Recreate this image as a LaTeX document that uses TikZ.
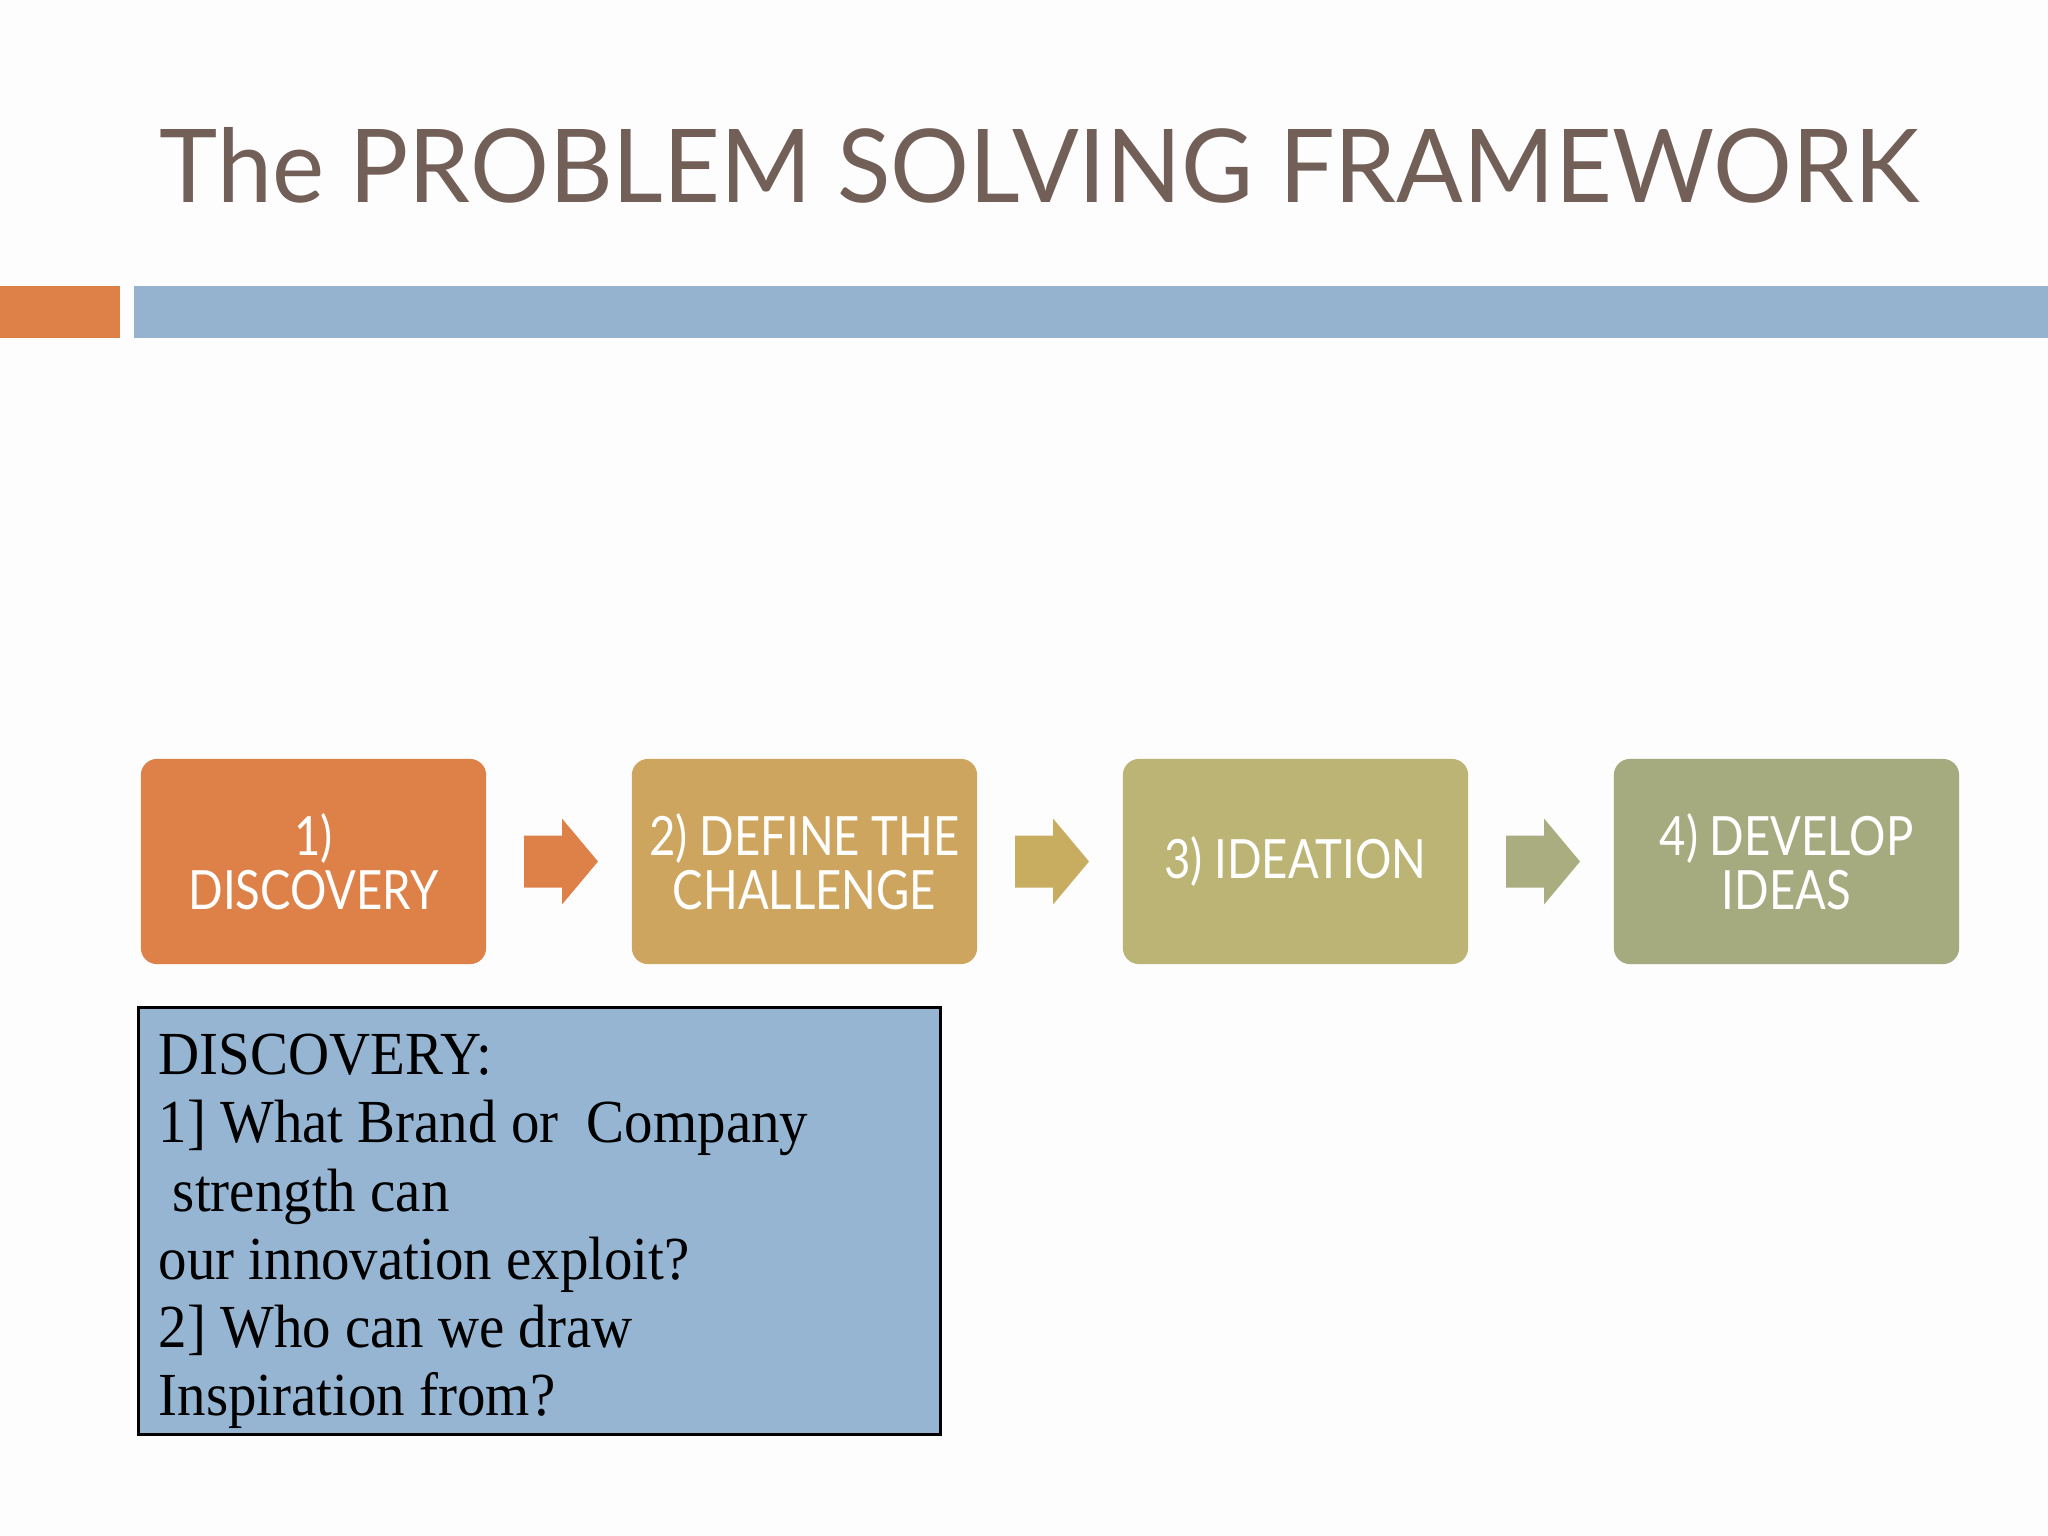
\documentclass[tikz,border=0pt]{standalone}
\usepackage{fontspec}
\usepackage{graphicx}
\usetikzlibrary{calc}
\setmainfont{Liberation Serif}
\newfontfamily\titlefont{Lato}
\newfontfamily\stepfont[FakeStretch=0.84]{Lato}
\newfontfamily\discfont[FakeStretch=0.93]{Liberation Serif}
\definecolor{bg}{HTML}{FDFDFD}
\definecolor{titlec}{HTML}{725F57}
\definecolor{barorange}{HTML}{DE8149}
\definecolor{barblue}{HTML}{95B3CF}
\definecolor{cone}{HTML}{DE8149}
\definecolor{ctwo}{HTML}{CEA55E}
\definecolor{cthree}{HTML}{BCB474}
\definecolor{cfour}{HTML}{A6AB7F}
\definecolor{aone}{HTML}{DE8149}
\definecolor{atwo}{HTML}{C8AD61}
\definecolor{athree}{HTML}{A9AD80}
\definecolor{discfill}{HTML}{95B5D3}
\tikzset{
  stepbox/.style={rounded corners=16*0.01cm, minimum width=3.45cm, minimum height=2.05cm,
    text=white, align=center, inner sep=0pt,
    font={\stepfont\fontsize{15.4}{15.3}\selectfont}},
}
\begin{document}
\begin{tikzpicture}[x=0.01cm,y=-0.01cm]
\fill[bg] (0,0) rectangle (2048,1536);
\useasboundingbox (0,0) rectangle (2048,1536);
% title
\node[anchor=base west, inner sep=0pt, text=titlec] (title) at (159,202)
  {\resizebox{17.58cm}{0.75cm}{\titlefont The PROBLEM SOLVING FRAMEWORK}};
% bars
\fill[barorange] (0,286) rectangle (120,338);
\fill[barblue] (134,286) rectangle (2048,338);
% steps
\node[stepbox, fill=cone]   (b1) at (313.5,861.5) {1)\\DISCOVERY};
\node[stepbox, fill=ctwo]   (b2) at (804.5,861.5) {2) DEFINE THE\\CHALLENGE};
\node[stepbox, fill=cthree] (b3) at (1295.5,861.5) {3) IDEATION};
\node[stepbox, fill=cfour]  (b4) at (1786.5,861.5) {4) DEVELOP\\IDEAS};
% arrows
\foreach \a/\b/\c in {b1/b2/aone, b2/b3/atwo, b3/b4/athree}{
  \fill[\c] ($(\a.east)!0.5!(\b.west)+(-35,-26)$) -- ++(38,0) -- ++(0,-17)
    -- ++(36,43) -- ++(-36,43) -- ++(0,-17) -- ++(-38,0) -- cycle;
}
% discovery box
\node[draw=black, line width=0.025cm, fill=discfill, anchor=north west,
      minimum width=8.02cm, minimum height=4.27cm, inner sep=0pt] (discbox) at (137,1006) {};
\node[anchor=north west, inner sep=0pt, align=left,
      font={\discfont\fontsize{17.4}{19.4}\selectfont}] (disctext) at (158,1033.5)
  {DISCOVERY:\\1] What Brand or\ \ Company\\\ strength can\\our innovation exploit?\\2] Who can we draw\\Inspiration from?};
\end{tikzpicture}
\end{document}
